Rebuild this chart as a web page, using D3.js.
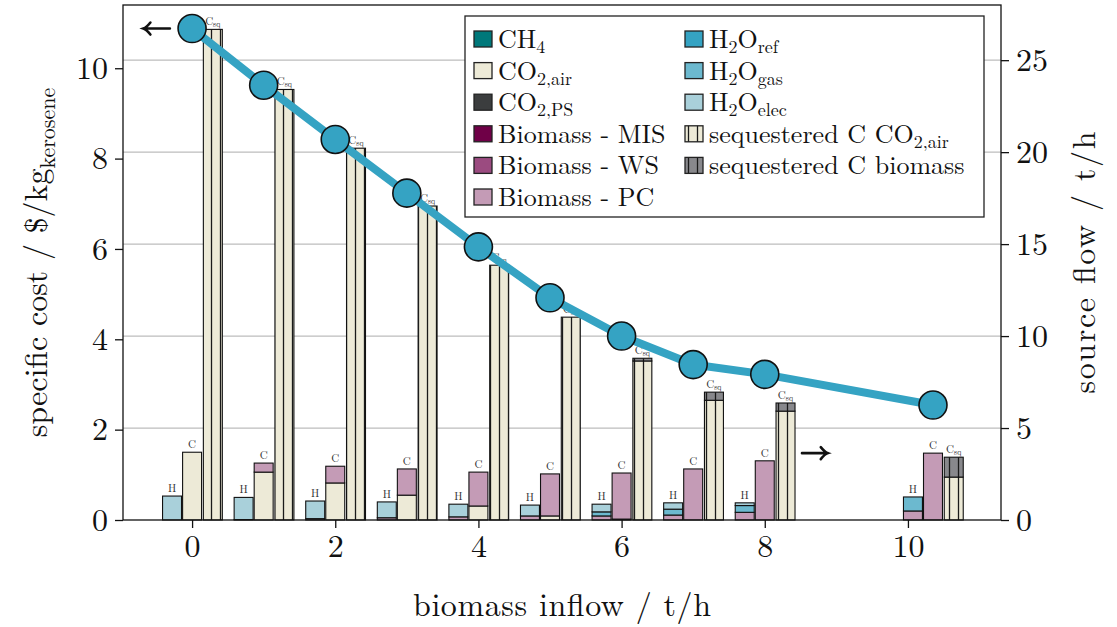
<!DOCTYPE html>
<html>
<head>
<meta charset="utf-8">
<script src="https://cdn.jsdelivr.net/npm/d3@7"></script>
<style>
  body { margin: 0; background: #fff; }
  svg text { font-family: "Latin Modern Roman", "CMU Serif", "Liberation Serif", serif; fill: #111; }
</style>
</head>
<body>
<svg id="chart"></svg>
<script>
const width = 1117, height = 627;
const plot = { left: 123, right: 1001, top: 5, bottom: 520 };

// biomass inflow (t/h) for each scenario
const inflow = [0, 1, 2, 3, 4, 5, 6, 7, 8, 10.35];
// source flow (right axis, t/h)
const sourceFlow = [26.72, 23.64, 20.69, 17.77, 14.85, 12.08, 10.0, 8.45, 7.92, 6.25];

// "H" bar (hydrogen sources), $/kg kerosene
const hBioPC = [0, 0.01, 0.03, 0.05, 0.07, 0.09, 0.09, 0.11, 0.17, 0.20];
const hGas = [0, 0, 0, 0, 0, 0, 0.09, 0.13, 0.15, 0.31];
const hElec = [0.53, 0.49, 0.39, 0.35, 0.28, 0.24, 0.17, 0.14, 0.06, 0];
// "C" bar (carbon sources)
const cAir = [1.50, 1.06, 0.82, 0.55, 0.31, 0.09, 0.02, 0, 0, 0];
const cBioPC = [0, 0.20, 0.37, 0.58, 0.75, 0.93, 1.02, 1.13, 1.31, 1.48];
// "Csq" bar (sequestered carbon)
const sqAir = [10.86, 9.53, 8.23, 6.95, 5.64, 4.49, 3.52, 2.65, 2.41, 0.95];
const sqBio = [0, 0, 0, 0, 0, 0, 0.06, 0.18, 0.18, 0.44];

const xTicks = [0, 2, 4, 6, 8, 10];
const yLeftTicks = [0, 2, 4, 6, 8, 10];
const yRightTicks = [0, 5, 10, 15, 20, 25];

const colors = {
  ch4: "#00787a", co2Air: "#edead7", co2PS: "#3b3d3e",
  bioMIS: "#6f0047", bioWS: "#9b4b80", bioPC: "#c49bb6",
  h2oRef: "#35a3c3", h2oGas: "#6cb9cf", h2oElec: "#a9d0da",
  sqAir: "#edead7", sqBio: "#88888c"
};
const lineColor = "#35a3c3";

const svg = d3.select("#chart").attr("width", width).attr("height", height);

const x = d3.scaleLinear().domain([-0.965, 11.3]).range([plot.left, plot.right]);
const yL = d3.scaleLinear().domain([0, 11.4]).range([plot.bottom, plot.top]);
const yR = d3.scaleLinear().domain([0, 28]).range([plot.bottom, plot.top]);

// hatch patterns for sequestered carbon
const defs = svg.append("defs");
[["sqAir", colors.sqAir], ["sqBio", colors.sqBio]].forEach(([id, c]) => {
  const p = defs.append("pattern").attr("id", "pat-" + id)
    .attr("patternUnits", "userSpaceOnUse").attr("width", 9).attr("height", 9);
  p.append("rect").attr("width", 9).attr("height", 9).attr("fill", c);
  p.append("line").attr("x1", 4.5).attr("x2", 4.5).attr("y1", 0).attr("y2", 9)
    .attr("stroke", "#1a1a1a").attr("stroke-width", 1.3);
});

// grid from the right axis
svg.append("g").selectAll("line")
  .data(yRightTicks.filter(d => d > 0))
  .join("line")
  .attr("x1", plot.left).attr("x2", plot.right)
  .attr("y1", d => yR(d)).attr("y2", d => yR(d))
  .attr("stroke", "#bdbdbd").attr("stroke-width", 1.2);

const rows = inflow.map((v, i) => ({
  x: v,
  hBioPC: hBioPC[i], hGas: hGas[i], hElec: hElec[i],
  cAir: cAir[i], cBioPC: cBioPC[i],
  sqAir: sqAir[i], sqBio: sqBio[i]
}));

const barW = 0.265;
const barTypes = [
  { label: "H", offset: -0.28, keys: ["hBioPC", "hGas", "hElec"], fill: ["bioPC", "h2oGas", "h2oElec"] },
  { label: "C", offset: 0, keys: ["cAir", "cBioPC"], fill: ["co2Air", "bioPC"] },
  { label: "Csq", offset: 0.29, keys: ["sqAir", "sqBio"], fill: ["url(#pat-sqAir)", "url(#pat-sqBio)"] }
];

const barG = svg.append("g");
barTypes.forEach(bt => {
  const stacked = d3.stack().keys(bt.keys)(rows);
  stacked.forEach((layer, li) => {
    const f = bt.fill[li];
    barG.append("g")
      .selectAll("rect")
      .data(layer.filter(d => d[1] - d[0] > 0))
      .join("rect")
      .attr("x", d => x(d.data.x + bt.offset - barW / 2))
      .attr("width", x(barW) - x(0))
      .attr("y", d => yL(d[1]))
      .attr("height", d => yL(d[0]) - yL(d[1]))
      .attr("fill", f.startsWith("url") ? f : colors[f])
      .attr("stroke", "#111").attr("stroke-width", 1.1);
  });
  // label above the bar
  const top = stacked[stacked.length - 1];
  const lab = barG.append("g").selectAll("text")
    .data(top)
    .join("text")
    .attr("x", d => x(d.data.x + bt.offset))
    .attr("y", d => yL(d[1]) - 4)
    .attr("text-anchor", "middle")
    .attr("font-size", 11)
    .style("fill", "#333");
  if (bt.label === "Csq") {
    lab.append("tspan").text("C");
    lab.append("tspan").attr("font-size", 8).attr("dy", 2).text("sq");
  } else {
    lab.text(bt.label);
  }
});

// source flow line
const line = d3.line().x((d, i) => x(inflow[i])).y(d => yR(d));
svg.append("path").datum(sourceFlow)
  .attr("d", line).attr("fill", "none")
  .attr("stroke", lineColor).attr("stroke-width", 8).attr("stroke-linejoin", "round");
svg.append("g").selectAll("circle")
  .data(sourceFlow)
  .join("circle")
  .attr("cx", (d, i) => x(inflow[i])).attr("cy", d => yR(d)).attr("r", 14)
  .attr("fill", lineColor).attr("stroke", "#111").attr("stroke-width", 1.6);

// axis arrows
const arrows = [
  { from: -0.31, to: -0.68, value: sourceFlow[0], scale: yR },
  { from: 8.52, to: 8.88, value: 1.48, scale: yL }
];
arrows.forEach(a => {
  const x0 = x(a.from), x1 = x(a.to), yy = a.scale(a.value);
  const dir = Math.sign(x1 - x0);
  svg.append("path")
    .attr("d", `M${x0},${yy}H${x1}M${x1 - dir * 7},${yy - 6}Q${x1 - dir * 3},${yy - 1} ${x1},${yy}Q${x1 - dir * 3},${yy + 1} ${x1 - dir * 7},${yy + 6}`)
    .attr("fill", "none").attr("stroke", "#111").attr("stroke-width", 2.6).attr("stroke-linecap", "round");
});

// frame
svg.append("rect")
  .attr("x", plot.left).attr("y", plot.top)
  .attr("width", plot.right - plot.left).attr("height", plot.bottom - plot.top)
  .attr("fill", "none").attr("stroke", "#111").attr("stroke-width", 1.3);

// axes
const styleAxis = g => {
  g.select(".domain").remove();
  g.selectAll(".tick line").attr("stroke", "#111").attr("stroke-width", 1.3);
  g.selectAll(".tick text").attr("font-size", 32).style("font-family", null);
};
svg.append("g").attr("transform", `translate(0,${plot.bottom})`)
  .call(d3.axisBottom(x).tickValues(xTicks).tickSize(8).tickPadding(6).tickFormat(d3.format("d")))
  .call(styleAxis);
svg.append("g").attr("transform", `translate(${plot.left},0)`)
  .call(d3.axisLeft(yL).tickValues(yLeftTicks).tickSize(8).tickPadding(7).tickFormat(d3.format("d")))
  .call(styleAxis);
svg.append("g").attr("transform", `translate(${plot.right},0)`)
  .call(d3.axisRight(yR).tickValues(yRightTicks).tickSize(8).tickPadding(7).tickFormat(d3.format("d")))
  .call(styleAxis);

// axis titles
svg.append("text")
  .attr("x", (plot.left + plot.right) / 2).attr("y", 616)
  .attr("text-anchor", "middle").attr("font-size", 32)
  .attr("textLength", 298).attr("lengthAdjust", "spacing")
  .text("biomass inflow / t/h");

const yt = svg.append("text")
  .attr("transform", `translate(47,${(plot.top + plot.bottom) / 2}) rotate(-90)`)
  .attr("text-anchor", "middle").attr("font-size", 32);
yt.append("tspan").text("specific cost / $/kg");
yt.append("tspan").attr("font-size", 22).attr("dy", 8).text("kerosene");

svg.append("text")
  .attr("transform", `translate(1095,${(plot.top + plot.bottom) / 2}) rotate(-90)`)
  .attr("text-anchor", "middle").attr("font-size", 32)
  .attr("textLength", 262).attr("lengthAdjust", "spacing")
  .text("source flow / t/h");

// legend
const legendItems = [
  { col: 0, key: "ch4", parts: [["CH"], ["4", 1]] },
  { col: 0, key: "co2Air", parts: [["CO"], ["2,air", 1]] },
  { col: 0, key: "co2PS", parts: [["CO"], ["2,PS", 1]] },
  { col: 0, key: "bioMIS", parts: [["Biomass - MIS"]] },
  { col: 0, key: "bioWS", parts: [["Biomass - WS"]] },
  { col: 0, key: "bioPC", parts: [["Biomass - PC"]] },
  { col: 1, key: "h2oRef", parts: [["H"], ["2", 1], ["O"], ["ref", 1]] },
  { col: 1, key: "h2oGas", parts: [["H"], ["2", 1], ["O"], ["gas", 1]] },
  { col: 1, key: "h2oElec", parts: [["H"], ["2", 1], ["O"], ["elec", 1]] },
  { col: 1, key: "url(#pat-sqAir)", parts: [["sequestered C CO"], ["2,air", 1]] },
  { col: 1, key: "url(#pat-sqBio)", parts: [["sequestered C biomass"]] }
];
const lg = svg.append("g");
lg.append("rect").attr("x", 465).attr("y", 16).attr("width", 519).attr("height", 201)
  .attr("fill", "#fff").attr("stroke", "#222").attr("stroke-width", 1.3);
const colX = [474, 685];
const rowCounter = [0, 0];
legendItems.forEach(it => {
  const r = rowCounter[it.col]++;
  const cy = 39 + r * 31.6;
  const sx = colX[it.col];
  lg.append("rect").attr("x", sx).attr("y", cy - 8).attr("width", 18).attr("height", 16)
    .attr("fill", it.key.startsWith("url") ? it.key : colors[it.key])
    .attr("stroke", "#222").attr("stroke-width", 1.3);
  const t = lg.append("text").attr("x", sx + 24).attr("y", cy + 9).attr("font-size", 26);
  let shifted = false;
  it.parts.forEach(([s, sub]) => {
    const ts = t.append("tspan").text(s);
    if (sub && !shifted) { ts.attr("font-size", 18).attr("dy", 5); shifted = true; }
    else if (!sub && shifted) { ts.attr("dy", -5); shifted = false; }
    else if (sub) ts.attr("font-size", 18);
  });
});
</script>
</body>
</html>
